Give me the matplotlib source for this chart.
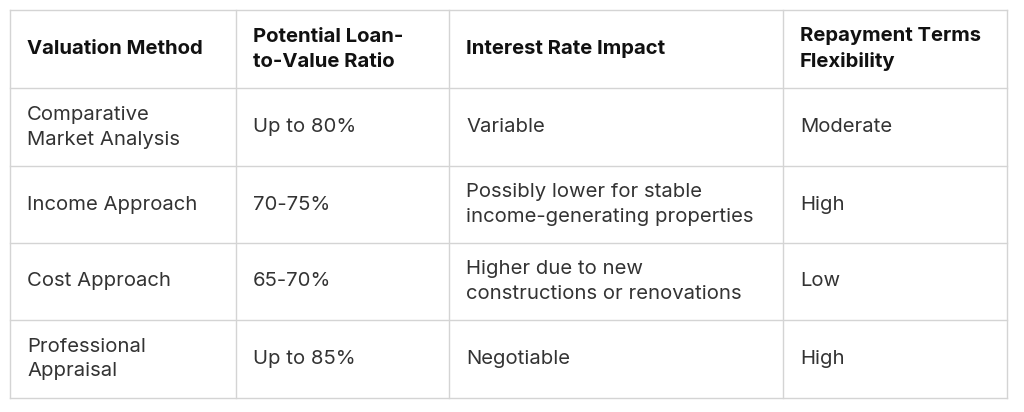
import matplotlib
matplotlib.use("Agg")
import matplotlib.pyplot as plt

headers = ["Valuation Method", "Potential Loan-\nto-Value Ratio", "Interest Rate Impact", "Repayment Terms\nFlexibility"]
methods = ["Comparative\nMarket Analysis", "Income Approach", "Cost Approach", "Professional\nAppraisal"]
ltv = ["Up to 80%", "70-75%", "65-70%", "Up to 85%"]
rate = ["Variable", "Possibly lower for stable\nincome-generating properties",
        "Higher due to new\nconstructions or renovations", "Negotiable"]
flex = ["Moderate", "High", "Low", "High"]

W, H = 1024, 412
fig = plt.figure(figsize=(W/100, H/100), dpi=100)
ax = fig.add_axes([0, 0, 1, 1])
ax.set_xlim(0, W); ax.set_ylim(H, 0); ax.axis("off")

cols = [10, 236, 449, 783, 1007]
rows = [10, 88, 166, 243, 320, 398]
lc = "#d4d4d4"
for x in cols:
    ax.plot([x, x], [rows[0], rows[-1]], color=lc, lw=1)
for y in rows:
    ax.plot([cols[0], cols[-1]], [y, y], color=lc, lw=1)

fam = ["Inter", "DejaVu Sans"]
def cell(r, c, txt, bold=False):
    ym = (rows[r] + rows[r+1]) / 2
    ax.text(cols[c] + 17, ym, txt, ha="left", va="center", fontsize=14.6,
            family=fam, fontweight="bold" if bold else "normal",
            color="#111111" if bold else "#333333", linespacing=1.5)

for c, h in enumerate(headers):
    cell(0, c, h, True)
for r in range(4):
    for c, v in enumerate([methods[r], ltv[r], rate[r], flex[r]]):
        cell(r + 1, c, v)

fig.savefig("out.png", dpi=100, facecolor="white")
